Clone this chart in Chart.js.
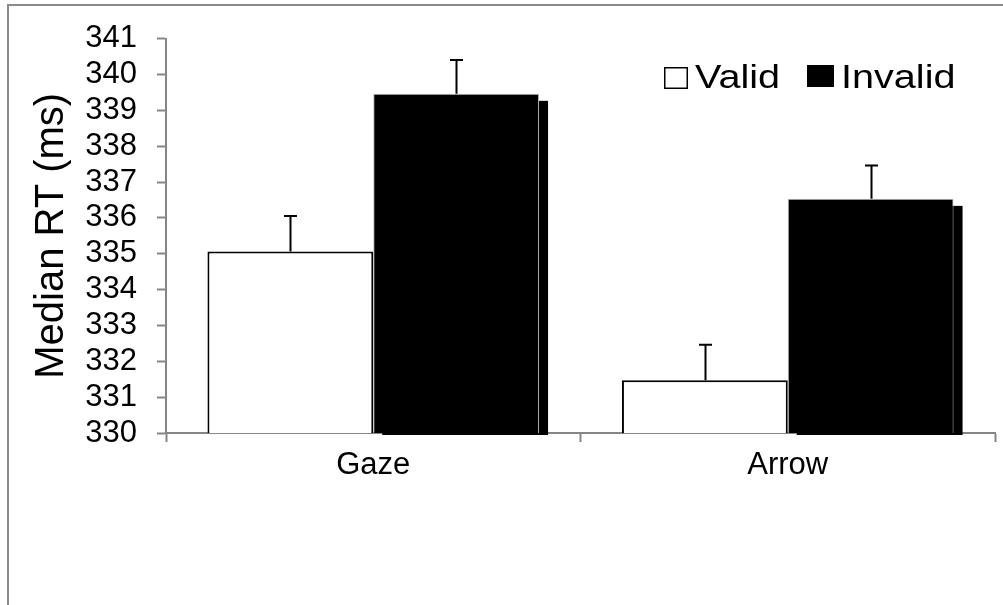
<!DOCTYPE html>
<html>
<head>
<meta charset="utf-8">
<script src="https://cdn.jsdelivr.net/npm/chart.js@4.4.1/dist/chart.umd.min.js"></script>
<style>
  html, body { margin: 0; padding: 0; background: #ffffff; overflow: hidden; }
  #wrap { position: absolute; left: 0; top: 0; width: 1003px; height: 605px; }
</style>
</head>
<body>
<div id="wrap"><canvas id="c" width="1003" height="605"></canvas></div>
<script>
// ---- data ----
const categories = ['Gaze', 'Arrow'];
const seriesNames = ['Valid', 'Invalid'];
const validValues = [335.06, 331.47];
const validErrors = [0.99, 0.99];
const invalidValues = [339.46, 336.53];
const invalidErrors = [0.94, 0.93];
const yMin = 330;
const yMax = 341;
const yStep = 1;
const yTitle = 'Median RT (ms)';

const errors = [validErrors, invalidErrors];
const AXIS_GRAY = '#868686';
const FONT = "'Liberation Sans', Arial, sans-serif";

// frame around the whole chart
const framePlugin = {
  id: 'frame',
  beforeDraw(chart) {
    const ctx = chart.ctx;
    ctx.save();
    ctx.strokeStyle = '#8a8a8a';
    ctx.lineWidth = 2;
    ctx.strokeRect(8, 5, 2000, 2000);
    ctx.restore();
  }
};

// drop shadow to the right/below of the Invalid bars
const shadowPlugin = {
  id: 'barShadow',
  beforeDatasetsDraw(chart) {
    const meta = chart.getDatasetMeta(1);
    const ctx = chart.ctx;
    const baseY = chart.scales.y.getPixelForValue(yMin);
    ctx.save();
    ctx.fillStyle = '#000000';
    meta.data.forEach(bar => {
      const p = bar.getProps(['x', 'y', 'width'], true);
      const left = p.x - p.width / 2 + 9;
      const top = p.y + 7;
      const bottom = baseY + 2;
      ctx.fillRect(left, top, p.width, bottom - top);
    });
    ctx.restore();
  }
};

// error bars (upper only)
const errorBarPlugin = {
  id: 'errorBars',
  afterDatasetsDraw(chart) {
    const ctx = chart.ctx;
    const yScale = chart.scales.y;
    ctx.save();
    ctx.strokeStyle = '#000000';
    ctx.lineWidth = 2;
    chart.data.datasets.forEach((ds, i) => {
      const meta = chart.getDatasetMeta(i);
      meta.data.forEach((bar, j) => {
        const v = ds.data[j];
        const e = errors[i][j];
        const x = Math.round(bar.x) + 0.5;
        const y1 = yScale.getPixelForValue(v);
        const y2 = yScale.getPixelForValue(v + e);
        ctx.beginPath();
        ctx.moveTo(x, y1);
        ctx.lineTo(x, y2);
        ctx.moveTo(x - 6.5, y2);
        ctx.lineTo(x + 6.5, y2);
        ctx.stroke();
      });
    });
    ctx.restore();
  }
};

// legend drawn inside the plot, top right
const legendPlugin = {
  id: 'innerLegend',
  afterDraw(chart) {
    const ctx = chart.ctx;
    ctx.save();
    // Valid box
    ctx.fillStyle = '#ffffff';
    ctx.fillRect(664, 67, 23, 21);
    ctx.strokeStyle = '#000000';
    ctx.lineWidth = 1.5;
    ctx.strokeRect(664.75, 67.75, 22.5, 20.5);
    // Invalid box
    ctx.fillStyle = '#000000';
    ctx.fillRect(807, 65, 27, 22);
    // texts
    const drawText = (t, x, y) => {
      ctx.save();
      ctx.translate(x, y);
      ctx.scale(1.2, 1);
      ctx.font = '33px ' + FONT;
      ctx.textBaseline = 'alphabetic';
      ctx.fillStyle = '#000000';
      ctx.fillText(t, 0, 0);
      ctx.restore();
    };
    drawText(seriesNames[0], 695, 88);
    drawText(seriesNames[1], 841, 88);
    ctx.restore();
  }
};

new Chart(document.getElementById('c'), {
  type: 'bar',
  data: {
    labels: categories,
    datasets: [
      {
        label: seriesNames[0],
        data: validValues,
        backgroundColor: '#ffffff',
        borderColor: '#000000',
        borderWidth: 2,
        borderSkipped: 'bottom'
      },
      {
        label: seriesNames[1],
        data: invalidValues,
        backgroundColor: '#000000',
        borderColor: '#b8b8b8',
        borderWidth: 1,
        borderSkipped: 'bottom'
      }
    ]
  },
  options: {
    responsive: false,
    animation: false,
    devicePixelRatio: 1,
    layout: { padding: { left: 0, top: 31, right: 8, bottom: 0 } },
    datasets: { bar: { categoryPercentage: 0.8, barPercentage: 1.0 } },
    plugins: {
      legend: { display: false },
      tooltip: { enabled: false },
      title: { display: false }
    },
    scales: {
      x: {
        type: 'category',
        offset: true,
        grid: {
          offset: true,
          drawOnChartArea: false,
          drawTicks: true,
          tickLength: 9,
          tickWidth: 2,
          tickColor: AXIS_GRAY
        },
        border: { display: true, color: AXIS_GRAY, width: 2 },
        ticks: {
          color: '#000000',
          font: { family: FONT, size: 31 },
          padding: 5,
          maxRotation: 0,
          autoSkip: false
        },
        afterFit(scale) { scale.height = 172; }
      },
      y: {
        min: yMin,
        max: yMax,
        grid: {
          drawOnChartArea: false,
          drawTicks: true,
          tickLength: 9,
          tickWidth: 2,
          tickColor: AXIS_GRAY
        },
        border: { display: true, color: AXIS_GRAY, width: 2 },
        ticks: {
          stepSize: yStep,
          autoSkip: false,
          color: '#000000',
          font: { family: FONT, size: 31 },
          padding: 20
        },
        title: {
          display: true,
          text: yTitle,
          color: '#000000',
          font: { family: FONT, size: 40 },
          padding: { top: 28, bottom: 0 }
        },
        afterFit(scale) { scale.width = 166; }
      }
    }
  },
  plugins: [framePlugin, shadowPlugin, errorBarPlugin, legendPlugin]
});
</script>
</body>
</html>
